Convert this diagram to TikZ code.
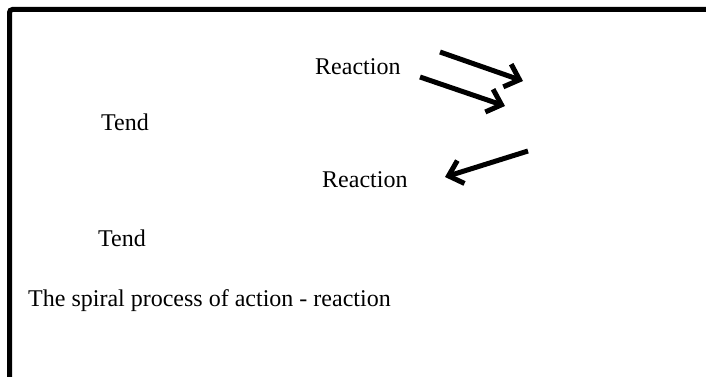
\documentclass[tikz,border=0pt]{standalone}
\usepackage{fontspec}
\setmainfont{Liberation Serif}
\usetikzlibrary{arrows.meta}

\tikzset{
  lbl/.style={anchor=base west, inner sep=0pt, font=\fontsize{24}{29}\selectfont},
  push/.style={line width=5pt, -{Straight Barb[length=13pt, width=24pt, line width=5pt]}}
}

\begin{document}
\begin{tikzpicture}[x=1pt, y=-1pt]
\useasboundingbox (0,0) rectangle (706,377);
\draw[line width=5pt, rounded corners=3pt] (9.5,377) -- (9.5,9.5) -- (706,9.5);
\node[lbl] (r1) at (315,75) {Reaction};
\node[lbl] (t1) at (101,131) {Tend};
\node[lbl] (r2) at (322,187) {Reaction};
\node[lbl] (t2) at (98,246) {Tend};
\node[lbl] (sp) at (28,306) {The spiral process of action - reaction};
\coordinate (a1) at (440,52);  \coordinate (b1) at (523,81);
\coordinate (a2) at (420,77);  \coordinate (b2) at (505,106);
\coordinate (a3) at (528,151); \coordinate (b3) at (445,177);
\draw[push] (a1) -- (b1);
\draw[push] (a2) -- (b2);
\draw[push] (a3) -- (b3);
\end{tikzpicture}
\end{document}
